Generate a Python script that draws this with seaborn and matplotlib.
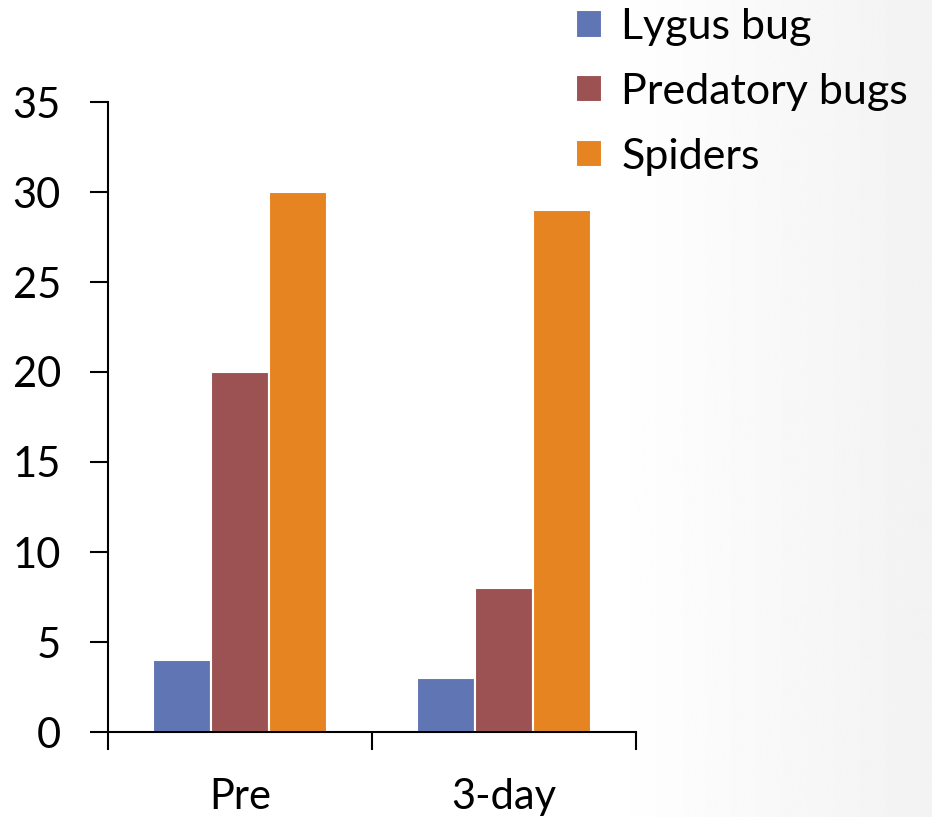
import matplotlib
matplotlib.use('Agg')
import matplotlib.pyplot as plt
import seaborn as sns
import numpy as np
import pandas as pd

sns.set_style("white")
plt.rcParams['font.family'] = ['Lato', 'DejaVu Sans']
plt.rcParams['text.color'] = 'black'
plt.rcParams['xtick.labelcolor'] = 'black'
plt.rcParams['ytick.labelcolor'] = 'black'

timepoints = ['Pre', '3-day']
groups = ['Lygus bug', 'Predatory bugs', 'Spiders']
lygus = [4, 3]
predatory = [20, 8]
spiders = [30, 29]
colors = ['#6076b4', '#9c5252', '#e68422']

df = pd.DataFrame({
    'time': timepoints * 3,
    'group': np.repeat(groups, len(timepoints)),
    'count': lygus + predatory + spiders,
})

W, H = 932, 817
fig = plt.figure(figsize=(W / 100, H / 100), dpi=100)

# faint slide-style gradient on the right side
bg = fig.add_axes([0, 0, 1, 1], zorder=-1)
f = np.linspace(0, 1, 400)
shade = 1 - 0.05 * np.clip((f - 0.65) / 0.35, 0, 1)
bg.imshow(shade[None, :], aspect='auto', cmap='gray', vmin=0, vmax=1, extent=[0, 1, 0, 1])
bg.axis('off')

ax = fig.add_axes([108 / W, 1 - 732 / H, (636 - 108) / W, (732 - 102) / H])
ax.patch.set_alpha(0)

sns.barplot(data=df, x='time', y='count', hue='group', palette=colors, saturation=1,
            width=0.66, edgecolor='white', linewidth=1.5, ax=ax)

ax.set_ylim(0, 35)
ax.set_xlim(-0.5, 1.5)
ax.set_yticks(range(0, 36, 5))
ax.set_xlabel('')
ax.set_ylabel('')
sns.despine(ax=ax)
for s in ['left', 'bottom']:
    ax.spines[s].set_color('black')
    ax.spines[s].set_linewidth(1.5)

ax.tick_params(axis='y', direction='out', length=13, width=1.5, pad=21,
               labelsize=30, left=True, color='black')
ax.tick_params(axis='x', which='major', length=0, pad=33, labelsize=30)
ax.set_xticks([-0.5, 0.5, 1.5], minor=True)
ax.tick_params(axis='x', which='minor', direction='out', length=13, width=1.5,
               bottom=True, color='black')

ax.legend(loc='upper left', bbox_to_anchor=(559 / W, 1 + 9 / H), bbox_transform=fig.transFigure,
          frameon=False, fontsize=31, handlelength=0.6, handleheight=0.6,
          handletextpad=0.45, labelspacing=0.62, borderaxespad=0)

fig.savefig('out.png', dpi=100)
